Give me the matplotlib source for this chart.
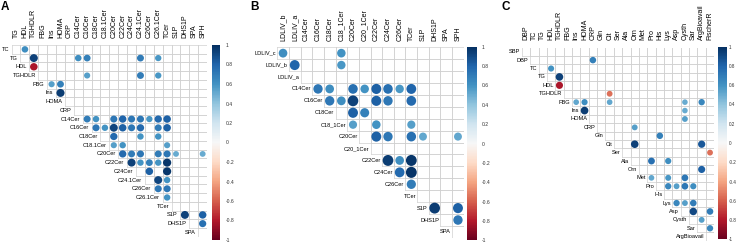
import numpy as np
import matplotlib.pyplot as plt
from matplotlib.patches import Circle
from matplotlib.colors import Normalize
from matplotlib.cm import ScalarMappable

plt.rcParams['font.family'] = ['Liberation Sans', 'DejaVu Sans']

W, H = 740, 242

# panel A: clinical + ceramides
vars_a = ['TC', 'TG', 'HDL', 'TGHDLR', 'FBG', 'Ins', 'HOMA', 'CRP', 'C14Cer', 'C16Cer',
          'C18Cer', 'C18.1Cer', 'C20Cer', 'C22Cer', 'C24Cer', 'C24.1Cer', 'C26Cer',
          'C26.1Cer', 'TCer', 'S1P', 'DHS1P', 'SPA', 'SPH']
pairs_a = [
    ('TC', 'HDL', 0.62),
    ('TG', 'TGHDLR', 0.93), ('TG', 'C14Cer', 0.62), ('TG', 'C16Cer', 0.68),
    ('TG', 'C24.1Cer', 0.70), ('TG', 'C26.1Cer', 0.58),
    ('HDL', 'TGHDLR', -0.82),
    ('TGHDLR', 'C16Cer', 0.55), ('TGHDLR', 'C24.1Cer', 0.70), ('TGHDLR', 'C26.1Cer', 0.58),
    ('FBG', 'Ins', 0.55), ('FBG', 'HOMA', 0.68),
    ('Ins', 'HOMA', 0.95),
    ('C14Cer', 'C16Cer', 0.70), ('C14Cer', 'C18Cer', 0.60), ('C14Cer', 'C20Cer', 0.72),
    ('C14Cer', 'C22Cer', 0.80), ('C14Cer', 'C24Cer', 0.72), ('C14Cer', 'C24.1Cer', 0.72),
    ('C14Cer', 'C26Cer', 0.58), ('C14Cer', 'C26.1Cer', 0.78), ('C14Cer', 'TCer', 0.82),
    ('C16Cer', 'C18Cer', 0.72), ('C16Cer', 'C18.1Cer', 0.60), ('C16Cer', 'C20Cer', 0.92),
    ('C16Cer', 'C22Cer', 0.82), ('C16Cer', 'C24Cer', 0.72), ('C16Cer', 'C24.1Cer', 0.78),
    ('C16Cer', 'C26.1Cer', 0.70), ('C16Cer', 'TCer', 0.82),
    ('C18Cer', 'C20Cer', 0.78), ('C18Cer', 'C24.1Cer', 0.60), ('C18Cer', 'C26.1Cer', 0.60),
    ('C18.1Cer', 'C20Cer', 0.55), ('C18.1Cer', 'C22Cer', 0.60), ('C18.1Cer', 'TCer', 0.55),
    ('C20Cer', 'C22Cer', 0.78), ('C20Cer', 'C24Cer', 0.70), ('C20Cer', 'C24.1Cer', 0.72),
    ('C20Cer', 'C26.1Cer', 0.70), ('C20Cer', 'TCer', 0.72), ('C20Cer', 'S1P', 0.50),
    ('C20Cer', 'SPH', 0.50),
    ('C22Cer', 'C24Cer', 0.93), ('C22Cer', 'C24.1Cer', 0.60), ('C22Cer', 'C26Cer', 0.68),
    ('C22Cer', 'C26.1Cer', 0.60), ('C22Cer', 'TCer', 0.97),
    ('C24Cer', 'C26Cer', 0.82), ('C24Cer', 'TCer', 0.97),
    ('C24.1Cer', 'C26.1Cer', 0.92), ('C24.1Cer', 'TCer', 0.60),
    ('C26Cer', 'C26.1Cer', 0.72), ('C26Cer', 'TCer', 0.72),
    ('C26.1Cer', 'TCer', 0.60),
    ('S1P', 'DHS1P', 0.93), ('S1P', 'SPH', 0.82),
    ('DHS1P', 'SPH', 0.75),
]

# panel B: LDL subfractions + ceramides
vars_b = ['LDLIV_c', 'LDLIV_b', 'LDLIV_a', 'C14Cer', 'C16Cer', 'C18Cer', 'C18_1Cer',
          'C20Cer', 'C20_1Cer', 'C22Cer', 'C24Cer', 'C26Cer', 'TCer', 'S1P', 'DHS1P',
          'SPA', 'SPH']
pairs_b = [
    ('LDLIV_c', 'LDLIV_b', 0.62), ('LDLIV_c', 'C18_1Cer', 0.60),
    ('LDLIV_b', 'LDLIV_a', 0.80), ('LDLIV_b', 'C18_1Cer', 0.58),
    ('C14Cer', 'C16Cer', 0.72), ('C14Cer', 'C18Cer', 0.62), ('C14Cer', 'C20Cer', 0.75),
    ('C14Cer', 'C20_1Cer', 0.60), ('C14Cer', 'C22Cer', 0.82), ('C14Cer', 'C24Cer', 0.75),
    ('C14Cer', 'C26Cer', 0.58), ('C14Cer', 'TCer', 0.80),
    ('C16Cer', 'C18Cer', 0.72), ('C16Cer', 'C18_1Cer', 0.62), ('C16Cer', 'C20Cer', 0.93),
    ('C16Cer', 'C22Cer', 0.82), ('C16Cer', 'C24Cer', 0.72), ('C16Cer', 'TCer', 0.78),
    ('C18Cer', 'C20Cer', 0.82), ('C18Cer', 'C20_1Cer', 0.68),
    ('C18_1Cer', 'C20Cer', 0.55), ('C18_1Cer', 'C22Cer', 0.60), ('C18_1Cer', 'TCer', 0.55),
    ('C20Cer', 'C22Cer', 0.82), ('C20Cer', 'C24Cer', 0.72), ('C20Cer', 'TCer', 0.75),
    ('C20Cer', 'S1P', 0.52), ('C20Cer', 'SPH', 0.52),
    ('C22Cer', 'C24Cer', 0.95), ('C22Cer', 'C26Cer', 0.62), ('C22Cer', 'TCer', 0.97),
    ('C24Cer', 'C26Cer', 0.78), ('C24Cer', 'TCer', 0.98),
    ('C26Cer', 'TCer', 0.70),
    ('S1P', 'DHS1P', 0.95), ('S1P', 'SPH', 0.82),
    ('DHS1P', 'SPH', 0.72),
]

# panel C: clinical + amino acids
vars_c = ['SBP', 'DBP', 'TC', 'TG', 'HDL', 'TGHDLR', 'FBG', 'Ins', 'HOMA', 'CRP', 'Gln',
          'Cit', 'Ser', 'Ala', 'Orn', 'Met', 'Pro', 'His', 'Lys', 'Asp', 'Cysth', 'Sar',
          'ArgBioavail', 'FischerR']
pairs_c = [
    ('DBP', 'CRP', 0.68),
    ('TC', 'HDL', 0.60),
    ('TG', 'TGHDLR', 0.93),
    ('HDL', 'TGHDLR', -0.82),
    ('TGHDLR', 'Cit', -0.55),
    ('FBG', 'Ins', 0.52), ('FBG', 'HOMA', 0.62), ('FBG', 'Cit', 0.52),
    ('FBG', 'Cysth', 0.50), ('FBG', 'ArgBioavail', 0.65),
    ('Ins', 'HOMA', 0.95), ('Ins', 'Cysth', 0.50),
    ('HOMA', 'Cysth', 0.55),
    ('CRP', 'Orn', 0.55),
    ('Gln', 'His', 0.68),
    ('Cit', 'Orn', 0.93), ('Cit', 'ArgBioavail', 0.85),
    ('Ser', 'FischerR', -0.55),
    ('Ala', 'Pro', 0.75), ('Ala', 'Lys', 0.62),
    ('Orn', 'ArgBioavail', 0.82),
    ('Met', 'Pro', 0.52), ('Met', 'Lys', 0.58), ('Met', 'Cysth', 0.72),
    ('Pro', 'Lys', 0.65), ('Pro', 'Asp', 0.55), ('Pro', 'Cysth', 0.72), ('Pro', 'Sar', 0.62),
    ('Lys', 'Asp', 0.65), ('Lys', 'Cysth', 0.55), ('Lys', 'Sar', 0.70),
    ('Asp', 'Sar', 0.90), ('Asp', 'FischerR', 0.70),
    ('Cysth', 'ArgBioavail', 0.55),
    ('Sar', 'FischerR', 0.65),
]

cbar_ticks = [-1, -0.8, -0.6, -0.4, -0.2, 0, 0.2, 0.4, 0.6, 0.8, 1]

cmap = plt.get_cmap('RdBu')
norm = Normalize(-1, 1)
fs_row = 4.1   # row labels
fs_col = 5.0   # column labels come out larger in the original


def px_axes(fig, l, t, r, b):
    return fig.add_axes([l / W, 1 - b / H, (r - l) / W, (b - t) / H])


def corr_panel(ax, names, pairs, row_gap=0.15, col_gap=0.6):
    n = len(names) - 1
    rows = names[:-1]
    cols = names[1:]
    gc = '#d0d0d0'
    # grid of the upper triangle
    for i in range(n):
        for y in (i - 0.5, i + 0.5):
            ax.plot([i - 0.5, n - 0.5], [y, y], color=gc, lw=0.5, zorder=1)
    for j in range(n):
        for x in (j - 0.5, j + 0.5):
            ax.plot([x, x], [-0.5, j + 0.5], color=gc, lw=0.5, zorder=1)
    for a, b, r in pairs:
        i = rows.index(a)
        j = cols.index(b)
        ax.add_patch(Circle((j, i), 0.47 * np.sqrt(abs(r)), color=cmap(norm(r)),
                            lw=0, zorder=3))
    for i, lab in enumerate(rows):
        ax.text(i - 0.5 - row_gap, i, lab, ha='right', va='center', fontsize=fs_row)
    for j, lab in enumerate(cols):
        ax.text(j, -0.5 - col_gap, lab, ha='center', va='bottom', rotation=90,
                fontsize=fs_col)
    ax.set_xlim(-0.5, n - 0.5)
    ax.set_ylim(n - 0.5, -0.5)
    ax.axis('off')


def add_cbar(fig, l, t, r, b, pad, size=3.6):
    cax = px_axes(fig, l, t, r, b)
    cb = fig.colorbar(ScalarMappable(norm=norm, cmap=cmap), cax=cax)
    cb.set_ticks(cbar_ticks)
    cb.set_ticklabels([f'{v:g}' for v in cbar_ticks])
    cb.outline.set_visible(False)
    cax.tick_params(length=0, labelsize=size, pad=pad, labelcolor='#333333')


fig = plt.figure(figsize=(W / 100, H / 100), dpi=100)

ax_a = px_axes(fig, 11.6, 45, 207.1, 236.7)
corr_panel(ax_a, vars_a, pairs_a, row_gap=0.3, col_gap=0.75)
add_cbar(fig, 211.7, 45, 220, 240, 4)

ax_b = px_axes(fig, 277.2, 47.2, 463.8, 237.9)
corr_panel(ax_b, vars_b, pairs_b, row_gap=0.1, col_gap=0.55)
add_cbar(fig, 466.7, 46.7, 476.7, 240.5, 3.5)

ax_c = px_axes(fig, 521.8, 47.5, 714.2, 240.9)
corr_panel(ax_c, vars_c, pairs_c, row_gap=0.2, col_gap=0.85)
add_cbar(fig, 717.7, 46.7, 726.7, 239.3, 1.5, size=3.3)

for x, lab in [(0.5, 'A'), (250, 'B'), (502, 'C')]:
    fig.text(x / W, 1 - 1.0 / H, lab, fontsize=8.5, fontweight='bold', ha='left', va='top')

fig.savefig('out.png', dpi=100)
